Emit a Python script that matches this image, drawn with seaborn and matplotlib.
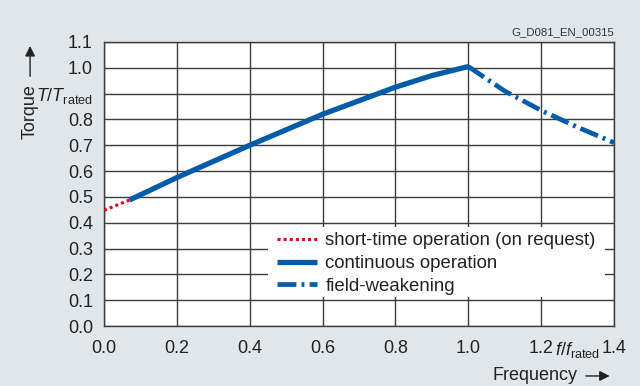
import matplotlib
matplotlib.use("Agg")
import matplotlib.pyplot as plt
from matplotlib.patches import Rectangle
import numpy as np
import pandas as pd
import seaborn as sns

# values
short_x = [0.0, 0.07]
short_y = [0.448, 0.488]
cont_x = [0.07, 0.2, 0.4, 0.6, 0.8, 0.9, 1.0]
cont_y = [0.488, 0.575, 0.70, 0.82, 0.925, 0.97, 1.005]
weak_x = [1.0, 1.1, 1.2, 1.3, 1.4]
weak_y = [1.005, 0.91, 0.835, 0.77, 0.71]
y_ticks = [0.0, 0.1, 0.2, 0.3, 0.4, 0.5, 0.6, 0.7, 0.8, 0.9, 1.0, 1.1]
y_labels = ["0.0", "0.1", "0.2", "0.3", "0.4", "0.5", "0.6", "0.7", "0.8",
            r"$T/T_{\mathregular{rated}}$", "1.0", "1.1"]
x_ticks = [0.0, 0.2, 0.4, 0.6, 0.8, 1.0, 1.2, 1.4]
x_labels = ["0.0", "0.2", "0.4", "0.6", "0.8", "1.0", "1.2", "1.4"]

blue = "#005ca8"
red = "#e2001a"
bg = "#e1e6ea"
gridc = "#3c3c3c"
txt = "#222222"

sns.set_style("white")
plt.rcParams["font.family"] = ["Liberation Sans", "DejaVu Sans"]
plt.rcParams["mathtext.fontset"] = "custom"
plt.rcParams["mathtext.rm"] = "Liberation Sans"
plt.rcParams["mathtext.it"] = "Liberation Sans:italic"

fig = plt.figure(figsize=(6.4, 3.86), dpi=100, facecolor=bg)
ax = fig.add_axes([0.1625, 0.1554, 0.7969, 0.7358])
ax.set_facecolor("white")

df_short = pd.DataFrame({"f": short_x, "T": short_y})
df_cont = pd.DataFrame({"f": cont_x, "T": cont_y})
df_weak = pd.DataFrame({"f": weak_x, "T": weak_y})

sns.lineplot(data=df_short, x="f", y="T", ax=ax, color=red, lw=2.2,
             linestyle=(0, (1, 1)), label="short-time operation (on request)",
             sort=False, zorder=3)
sns.lineplot(data=df_cont, x="f", y="T", ax=ax, color=blue, lw=3.8,
             label="continuous operation", sort=False, zorder=3,
             solid_capstyle="butt")
sns.lineplot(data=df_weak, x="f", y="T", ax=ax, color=blue, lw=3.4,
             linestyle=(0, (4.0, 1.1, 0.6, 1.1)), label="field-weakening",
             sort=False, zorder=3)

ax.set_xlim(0, 1.4)
ax.set_ylim(0, 1.1)
ax.set_xticks(x_ticks)
ax.set_xticklabels(x_labels)
ax.set_xticks([1.3], minor=True)
ax.set_xticklabels([r"$f/f_{\mathregular{rated}}$"], minor=True)
ax.set_yticks(y_ticks)
ax.set_yticklabels(y_labels)
ax.tick_params(axis="both", which="major", length=5, width=1, color=gridc,
               labelsize=13, labelcolor=txt, pad=3)
ax.tick_params(axis="x", which="major", pad=5)
ax.tick_params(axis="x", which="minor", length=0, labelsize=13,
               labelcolor=txt, pad=10)
ax.grid(True, which="major", color=gridc, lw=1)
for s in ax.spines.values():
    s.set_color(gridc)
    s.set_linewidth(1)
ax.set_xlabel("")
ax.set_ylabel("")

# white box behind the legend, hiding the grid
ax.add_patch(Rectangle((0.3216, 0.102), 0.6604, 0.2466, transform=ax.transAxes,
                       facecolor="white", edgecolor="none", zorder=2.5))
leg = ax.legend(loc="upper left", bbox_to_anchor=(0.339, 0.331), fontsize=13.4,
                frameon=False, handlelength=2.15, handletextpad=0.45,
                borderpad=0, labelspacing=0.32, borderaxespad=0)
leg.set_zorder(4)
for t in leg.get_texts():
    t.set_color(txt)

fig.text(0.047, 0.712, "Torque", rotation=90, fontsize=13, color=txt,
         ha="center", va="center")
ax.annotate("", xy=(0.047, 0.888), xytext=(0.047, 0.795),
            xycoords="figure fraction", textcoords="figure fraction",
            arrowprops=dict(arrowstyle="-|>", color=txt, lw=1,
                            mutation_scale=15))
fig.text(0.902, 0.028, "Frequency", fontsize=13, color=txt,
         ha="right", va="center")
ax.annotate("", xy=(0.957, 0.026), xytext=(0.911, 0.026),
            xycoords="figure fraction", textcoords="figure fraction",
            arrowprops=dict(arrowstyle="-|>", color=txt, lw=1,
                            mutation_scale=15))
fig.text(0.959, 0.904, "G_D081_EN_00315", fontsize=8.2, color="#333333",
         ha="right", va="bottom")

fig.savefig("out.png", dpi=100, facecolor=bg)
